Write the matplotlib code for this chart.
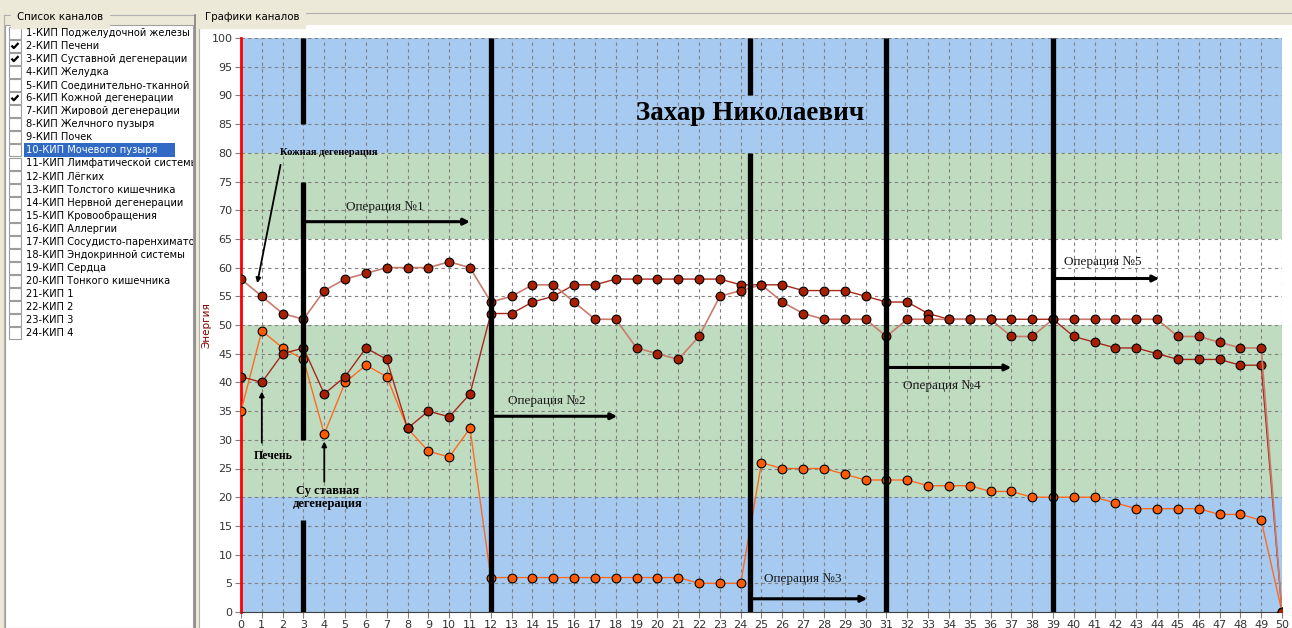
import matplotlib

matplotlib.use("Agg")
import matplotlib.pyplot as plt  # noqa: E402
import numpy as np  # noqa: E402
from matplotlib.patches import Rectangle  # noqa: E402

W, H = 1292, 628
SERIF = "Liberation Serif"

# --- data ---------------------------------------------------------------
x = np.arange(51)
skin = [58, 55, 52, 51, 56, 58, 59, 60, 60, 60, 61, 60, 54, 55, 57, 57, 54, 51, 51,
        46, 45, 44, 48, 55, 56, 57, 54, 52, 51, 51, 51, 48, 51, 51, 51, 51, 51, 48,
        48, 51, 51, 51, 51, 51, 51, 48, 48, 47, 46, 46, 0]
liver = [41, 40, 45, 46, 38, 41, 46, 44, 32, 35, 34, 38, 52, 52, 54, 55, 57, 57, 58,
         58, 58, 58, 58, 58, 57, 57, 57, 56, 56, 56, 55, 54, 54, 52, 51, 51, 51, 51,
         51, 51, 48, 47, 46, 46, 45, 44, 44, 44, 43, 43, 0]
joint = [35, 49, 46, 44, 31, 40, 43, 41, 32, 28, 27, 32, 6, 6, 6, 6, 6, 6, 6, 6, 6,
         6, 5, 5, 5, 26, 25, 25, 25, 24, 23, 23, 23, 22, 22, 22, 21, 21, 20, 20, 20,
         20, 19, 18, 18, 18, 18, 17, 17, 16, 0]

# channel names as far as the list box shows them (long ones are cut off)
channels = [
    "1-КИП Поджелудочной железы", "2-КИП Печени", "3-КИП Суставной дегенерации",
    "4-КИП Желудка", "5-КИП Соединительно-тканной де",
    "6-КИП Кожной дегенерации", "7-КИП Жировой дегенерации",
    "8-КИП Желчного пузыря", "9-КИП Почек", "10-КИП Мочевого пузыря",
    "11-КИП Лимфатической системы", "12-КИП Лёгких", "13-КИП Толстого кишечника",
    "14-КИП Нервной дегенерации", "15-КИП Кровообращения", "16-КИП Аллергии",
    "17-КИП Сосудисто-паренхиматоз", "18-КИП Эндокринной системы",
    "19-КИП Сердца", "20-КИП Тонкого кишечника", "21-КИП 1", "22-КИП 2",
    "23-КИП 3", "24-КИП 4",
]
checked = [2, 3, 6]
selected = 10

bands = [(0, 20, "#a6caf0"), (20, 50, "#c0dcc0"), (65, 80, "#c0dcc0"),
         (80, 100, "#a6caf0")]

# operation markers: x position and the vertical pieces drawn there
op_bars = [(3, [(85, 100), (30, 75), (0, 16)]), (12, [(0, 100)]),
           (24.45, [(90, 100), (0, 80)]), (31, [(0, 100)]), (39, [(0, 100)])]
# label, arrow start, arrow end, arrow y, text x, text y
ops = [("Операция №1", 3, 11, 68, 6.9, 70.6),
       ("Операция №2", 12, 18.07, 34.1, 14.7, 36.8),
       ("Операция №3", 24.45, 30.08, 2.3, 27.0, 5.7),
       ("Операция №4", 31, 37, 42.6, 33.65, 39.3),
       ("Операция №5", 39, 44.1, 58.1, 41.4, 61.0)]

fig = plt.figure(figsize=(W / 100, H / 100), dpi=100, facecolor="#ece9d8")

# --- window chrome (pixel coordinates) -----------------------------------
bg = fig.add_axes([0, 0, 1, 1])
bg.set_xlim(0, W)
bg.set_ylim(H, 0)
bg.axis("off")

bg.plot([4, 195], [15, 15], color="#b0b0b0", lw=0.8)
bg.plot([4, 4], [15, H], color="#b0b0b0", lw=0.8)
lst = Rectangle((5, 25), 188, H - 25, facecolor="white", edgecolor="#a0a0a0", lw=0.8)
bg.add_patch(lst)
bg.plot([195, 195], [15, H], color="#808080", lw=1.2)
bg.text(17, 17, "Список каналов", fontsize=7.4, va="center", ha="left",
        backgroundcolor="#ece9d8")

bg.plot([199, W], [13, 13], color="#b0b0b0", lw=0.8)
bg.plot([199, 199], [13, H], color="#b0b0b0", lw=0.8)
bg.add_patch(Rectangle((200, 25), W - 200, H - 25, facecolor="white", lw=0))
bg.text(205, 17, "Графики каналов", fontsize=7.4, va="center", ha="left",
        backgroundcolor="#ece9d8")

for i, name in enumerate(channels, start=1):
    yc = 33 + (i - 1) * 13.05
    bg.add_patch(Rectangle((9, yc - 6), 12, 12, facecolor="white",
                           edgecolor="#9c9c9c", lw=0.8))
    if i in checked:
        bg.plot([11.5, 13.8, 18.5], [yc - 0.5, yc + 2, yc - 3], color="black",
                lw=1.6, solid_capstyle="butt")
    color = "black"
    if i == selected:
        bg.add_patch(Rectangle((24, yc - 7), 151, 14, facecolor="#316ac5", lw=0))
        color = "white"
    t = bg.text(26, yc, name, fontsize=7.1, va="center", ha="left", color=color,
                clip_on=True)
    t.set_clip_path(lst)

# --- chart ---------------------------------------------------------------
ax = fig.add_axes([241 / W, 1 - 612 / H, 1041 / W, 574 / H])
ax.set_xlim(0, 50)
ax.set_ylim(0, 100)
ax.set_facecolor("white")
for lo, hi, c in bands:
    ax.axhspan(lo, hi, color=c, lw=0, zorder=0.1)

ax.set_xticks(range(0, 51))
ax.set_yticks(range(0, 101, 5))
ax.set_axisbelow(True)
ax.grid(True, color="#808080", lw=0.8, ls=(0, (3, 3)))
ax.tick_params(axis="both", labelsize=8, labelcolor="#333333", color="#808080",
               length=4, width=0.8, pad=2)
for s in ("top", "right"):
    ax.spines[s].set_visible(False)
ax.spines["left"].set_color("red")
ax.spines["left"].set_linewidth(2)
ax.spines["bottom"].set_color("#404040")
ax.set_ylabel("Энергия", color="#800000", fontsize=7.5, labelpad=0)

mk = dict(marker="o", markersize=6.3, markeredgecolor="black", markeredgewidth=0.8,
          zorder=3)
ax.plot(x, joint, color="#ff6a20", lw=1.0, markerfacecolor="#ff5a00", **mk)
ax.plot(x, liver, color="#a8281a", lw=1.0, markerfacecolor="#a82000", **mk)
ax.plot(x, skin, color="#c97b6e", lw=1.2, markerfacecolor="#a82000", **mk)

for xb, pieces in op_bars:
    for lo, hi in pieces:
        ax.vlines(xb, lo, hi, color="black", lw=3.8, zorder=4)

arr = dict(arrowstyle="-|>", color="black", lw=2.2, mutation_scale=9,
           shrinkA=0, shrinkB=0)
for label, x0, x1, ya, tx, ty in ops:
    ax.annotate("", xy=(x1, ya), xytext=(x0, ya), arrowprops=arr, zorder=5)
    ax.text(tx, ty, label, ha="center", va="center", fontsize=9.5, family=SERIF,
            color="#1a1a1a", zorder=6)

ax.text(24.45, 86.9, "Захар Николаевич", ha="center", va="center", fontsize=19.5,
        fontweight="bold", family=SERIF, zorder=6)

thin = dict(arrowstyle="-|>", color="black", lw=1.3, mutation_scale=7,
            shrinkA=0, shrinkB=0)
ax.text(4.2, 80.1, "Кожная дегенерация", ha="center", va="center", fontsize=7.6,
        fontweight="bold", family=SERIF, zorder=6)
ax.annotate("", xy=(0.78, 57.3), xytext=(1.9, 77.9), arrowprops=thin, zorder=5)
ax.text(1.56, 27.1, "Печень", ha="center", va="center", fontsize=8.5,
        fontweight="bold", family=SERIF, zorder=6)
ax.annotate("", xy=(1, 38.4), xytext=(1, 29.5), arrowprops=thin, zorder=5)
ax.text(4.17, 20.0, "Су ставная\nдегенерация", ha="center", va="center",
        fontsize=9, fontweight="bold", family=SERIF, linespacing=1.1, zorder=6)
ax.annotate("", xy=(4, 29.7), xytext=(4, 22.7), arrowprops=thin, zorder=5)

fig.savefig("out.png", dpi=100, facecolor=fig.get_facecolor())
